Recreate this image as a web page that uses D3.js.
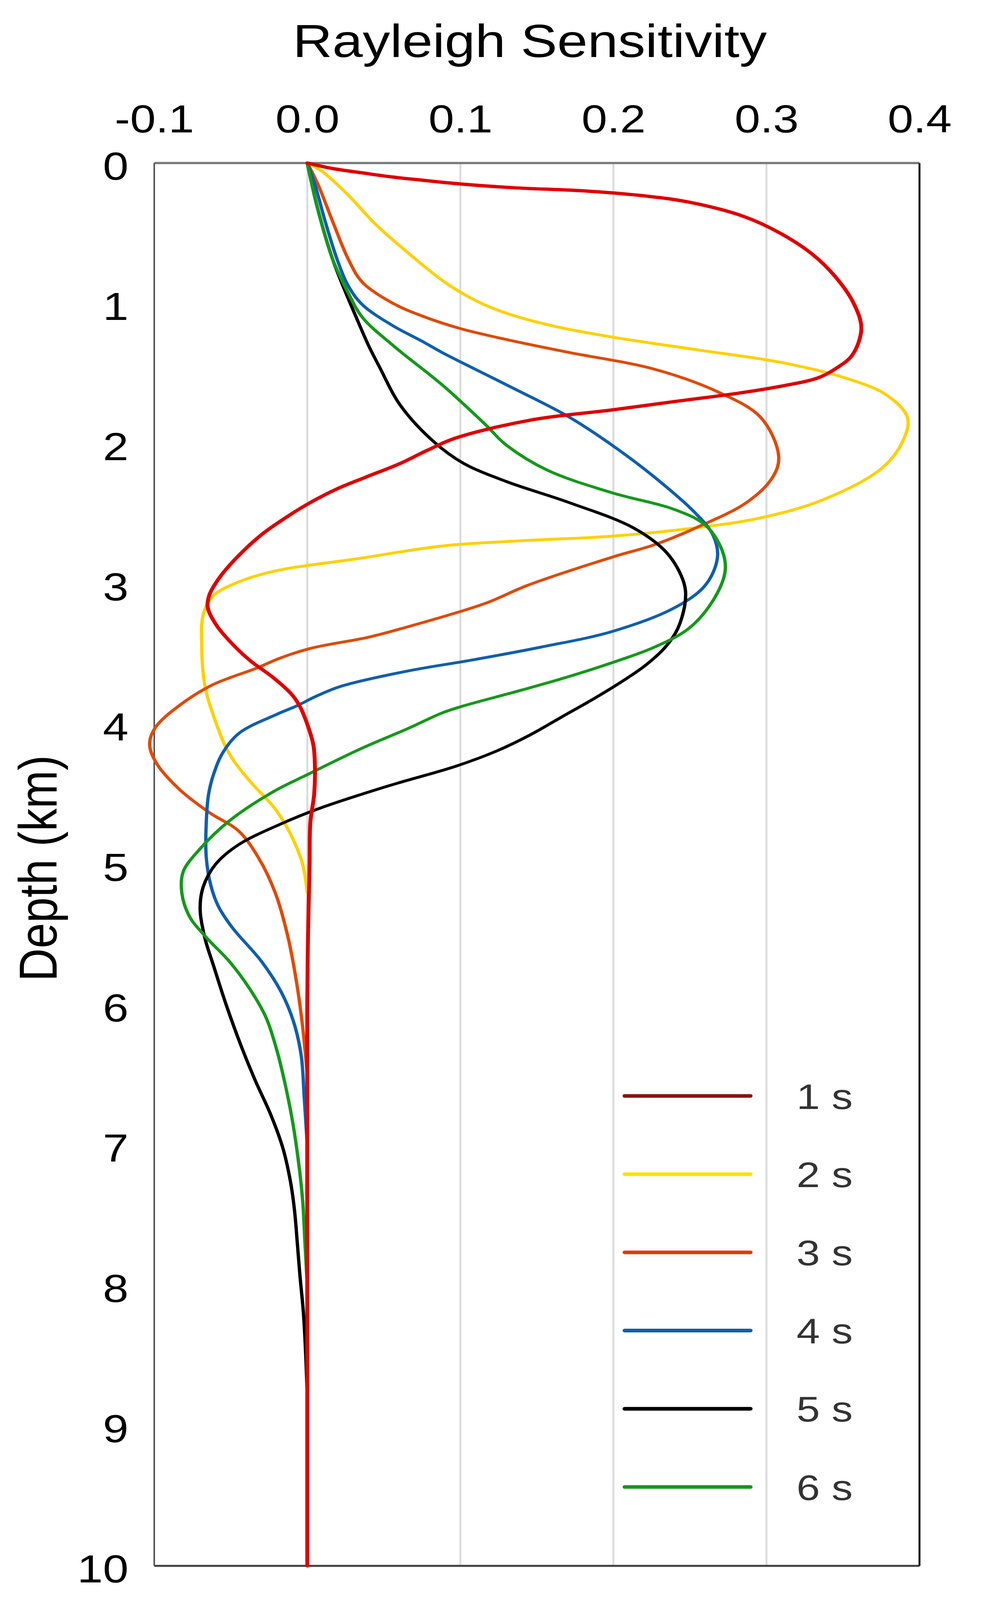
<!DOCTYPE html>
<html>
<head>
<meta charset="utf-8">
<script src="https://cdn.jsdelivr.net/npm/d3@7"></script>
<style>
  html, body { margin: 0; padding: 0; background: #fff; overflow: hidden; }
  svg { display: block; }
  text { font-family: "Liberation Sans", Arial, Helvetica, sans-serif; }
</style>
</head>
<body>
<script>
// periods shown in the legend
var periods = ['1 s', '2 s', '3 s', '4 s', '5 s', '6 s'];

// tick values
var xTicks = [-0.1, 0.0, 0.1, 0.2, 0.3, 0.4];
var yTicks = [0, 1, 2, 3, 4, 5, 6, 7, 8, 9, 10];

// [depth (km), sensitivity]
var sens1s = [[0,0],[0.04,0.017],[0.07,0.036],[0.10,0.056],[0.122,0.075],[0.149,0.10],[0.176,0.135],[0.2,0.183],
  [0.24,0.225],[0.28,0.25],[0.38,0.285],[0.5,0.309],[0.65,0.33],[0.81,0.345],[1.0,0.357],[1.18,0.362],
  [1.37,0.356],[1.46,0.346],[1.53,0.334],[1.59,0.31],[1.64,0.282],[1.7,0.24],[1.76,0.199],[1.83,0.147],
  [1.96,0.097],[2.05,0.078],[2.14,0.061],[2.24,0.038],[2.32,0.02],[2.42,0.002],[2.52,-0.013],[2.65,-0.03],
  [2.8,-0.045],[2.95,-0.057],[3.08,-0.064],[3.17,-0.065],[3.3,-0.059],[3.45,-0.047],[3.55,-0.037],
  [3.67,-0.022],[3.79,-0.010],[3.87,-0.005],[4.0,0],[4.15,0.004],[4.3,0.005],[4.5,0.0045],[4.7,0.002],
  [5.0,0.0015],[5.5,0.0005],[6,0],[8,0],[10,0]];

var sens2s = [[0,0],[0.06,0.0098],[0.22,0.026],[0.44,0.045],[0.66,0.068],[0.85,0.09],[0.98,0.11],[1.07,0.13],
  [1.16,0.16],[1.24,0.199],[1.33,0.254],[1.42,0.309],[1.53,0.351],[1.65,0.378],[1.81,0.392],[1.96,0.39],
  [2.17,0.376],[2.4,0.337],[2.53,0.296],[2.6,0.254],[2.66,0.199],[2.69,0.144],[2.73,0.088],[2.82,0.033],
  [2.91,-0.022],[3.0,-0.048],[3.09,-0.062],[3.22,-0.068],[3.41,-0.069],[3.72,-0.067],[3.98,-0.06],
  [4.21,-0.051],[4.4,-0.038],[4.59,-0.022],[4.74,-0.013],[4.95,-0.0044],[5.05,-0.002],[5.2,0]];

var sens3s = [[0,0],[0.15,0.0069],[0.42,0.0167],[0.69,0.027],[0.85,0.036],[1.0,0.056],[1.09,0.075],[1.18,0.1],
  [1.26,0.131],[1.35,0.171],[1.47,0.227],[1.63,0.268],[1.81,0.296],[2.09,0.308],[2.24,0.304],[2.42,0.287],
  [2.6,0.254],[2.72,0.227],[2.81,0.199],[3.01,0.144],[3.14,0.116],[3.32,0.061],[3.38,0.04],[3.46,0.002],
  [3.53,-0.018],[3.6,-0.033],[3.72,-0.062],[3.87,-0.084],[4.02,-0.099],[4.14,-0.103],[4.27,-0.099],
  [4.46,-0.084],[4.63,-0.064],[4.76,-0.045],[4.95,-0.032],[5.2,-0.021],[5.5,-0.013],[5.84,-0.007],
  [6.16,-0.003],[6.5,0]];

var sens4s = [[0,0],[0.15,0.0049],[0.42,0.0118],[0.69,0.0196],[0.87,0.0265],[1.01,0.036],[1.16,0.056],
  [1.27,0.075],[1.35,0.088],[1.58,0.13],[1.81,0.171],[2.01,0.199],[2.24,0.227],[2.5,0.254],[2.65,0.265],
  [2.81,0.268],[3.01,0.26],[3.17,0.24],[3.34,0.199],[3.45,0.153],[3.54,0.109],[3.62,0.066],[3.73,0.022],
  [3.8,0.006],[3.87,-0.007],[3.93,-0.02],[4.06,-0.044],[4.2,-0.055],[4.35,-0.061],[4.5,-0.0645],
  [4.7,-0.066],[4.95,-0.066],[5.15,-0.063],[5.3,-0.058],[5.45,-0.049],[5.69,-0.030],[5.91,-0.017],
  [6.12,-0.009],[6.36,-0.004],[6.66,-0.002],[7.0,0]];

var sens5s = [[0,0],[0.33,0.0069],[0.69,0.0167],[0.96,0.0265],[1.10,0.032],[1.30,0.040],[1.45,0.047],
  [1.73,0.061],[1.99,0.083],[2.14,0.102],[2.27,0.13],[2.42,0.171],[2.6,0.213],[2.78,0.235],[2.99,0.246],
  [3.12,0.247],[3.32,0.242],[3.45,0.234],[3.58,0.221],[3.7,0.205],[3.82,0.187],[3.95,0.166],[4.08,0.145],
  [4.19,0.124],[4.30,0.097],[4.44,0.053],[4.6,0.008],[4.71,-0.017],[4.86,-0.045],[5.0,-0.06],[5.16,-0.068],
  [5.32,-0.070],[5.52,-0.067],[5.73,-0.061],[6.0,-0.053],[6.3,-0.043],[6.54,-0.034],[6.78,-0.024],
  [7.02,-0.016],[7.26,-0.011],[7.46,-0.0084],[7.7,-0.0065],[7.93,-0.0048],[8.2,-0.0025],[8.5,-0.001],[8.8,0]];

var sens6s = [[0,0],[0.33,0.0069],[0.69,0.0167],[0.92,0.0265],[1.10,0.036],[1.30,0.056],[1.58,0.088],
  [1.86,0.116],[2.01,0.13],[2.19,0.157],[2.35,0.199],[2.47,0.24],[2.58,0.26],[2.76,0.271],[2.91,0.273],
  [3.12,0.265],[3.32,0.249],[3.45,0.227],[3.54,0.205],[3.67,0.168],[3.76,0.139],[3.87,0.102],[3.92,0.088],
  [4.03,0.066],[4.17,0.036],[4.36,0],[4.48,-0.022],[4.69,-0.051],[4.9,-0.071],[5.05,-0.081],[5.2,-0.082],
  [5.37,-0.077],[5.52,-0.066],[5.69,-0.051],[5.88,-0.038],[6.09,-0.027],[6.32,-0.02],[6.54,-0.015],
  [6.84,-0.0095],[7.14,-0.0055],[7.4,-0.003],[7.7,-0.0015],[8.0,0]];

var lineColors = ['#e00000', '#ffd000', '#e04a06', '#0f5fae', '#000000', '#14991a'];
var legendColors = ['#8a1414', '#ffe000', '#e03a00', '#0f5fa8', '#000000', '#14991a'];

// drawing space is the reference's 2533 x 4828; the svg is fitted to the window
var W = 2533, H = 4828;
var svg = d3.select('body').append('svg')
    .attr('width', window.innerWidth || W)
    .attr('height', window.innerHeight || H)
    .attr('viewBox', '0 0 ' + W + ' ' + H)
    .attr('preserveAspectRatio', 'none');

var scaleX = d3.scaleLinear().domain([-0.1, 0.4]).range([395, 2355]);
var scaleY = d3.scaleLinear().domain([0, 10]).range([492, 4725]);   // depth grows downward

// light vertical grid inside the frame
svg.selectAll('line.grid')
    .data(xTicks.slice(1, -1))
    .enter()
    .append('line')
    .attr('class', 'grid')
    .attr('x1', function(d) { return scaleX(d); })
    .attr('x2', function(d) { return scaleX(d); })
    .attr('y1', scaleY(0))
    .attr('y2', scaleY(10))
    .attr('stroke', '#dadada')
    .attr('stroke-width', 5);

// axes: labels only, frame drawn separately
var xAxis = svg.append('g')
    .attr('transform', 'translate(0,' + scaleY(0) + ')')
    .call(d3.axisTop(scaleX).tickValues(xTicks).tickSize(0).tickPadding(92)
        .tickFormat(function(d) { return d.toFixed(1); }));

var yAxis = svg.append('g')
    .attr('transform', 'translate(' + scaleX(-0.1) + ',0)')
    .call(d3.axisLeft(scaleY).tickValues(yTicks).tickSize(0).tickPadding(66));

[xAxis, yAxis].forEach(function(g) {
    g.select('.domain').remove();
    g.selectAll('text')
        .attr('font-size', 118)
        .attr('font-family', '"Liberation Sans", Arial, sans-serif')
        .attr('fill', '#000');
});
yAxis.selectAll('text').attr('dy', '0.42em');

// frame
svg.append('line')
    .attr('x1', scaleX(-0.1)).attr('x2', scaleX(0.4))
    .attr('y1', scaleY(0)).attr('y2', scaleY(0))
    .attr('stroke', '#7a7a7a').attr('stroke-width', 7);
svg.append('line')
    .attr('x1', scaleX(-0.1)).attr('x2', scaleX(0.4))
    .attr('y1', scaleY(10)).attr('y2', scaleY(10))
    .attr('stroke', '#444').attr('stroke-width', 6);
svg.append('line')
    .attr('x1', scaleX(-0.1)).attr('x2', scaleX(-0.1))
    .attr('y1', scaleY(0)).attr('y2', scaleY(10))
    .attr('stroke', '#555').attr('stroke-width', 4);
svg.append('line')
    .attr('x1', scaleX(0.4)).attr('x2', scaleX(0.4))
    .attr('y1', scaleY(0)).attr('y2', scaleY(10))
    .attr('stroke', '#111').attr('stroke-width', 5);

// curves
var line = d3.line()
    .x(function(d) { return scaleX(d[1]); })
    .y(function(d) { return scaleY(d[0]); })
    .curve(d3.curveCatmullRom.alpha(0.5));

var series = [sens1s, sens2s, sens3s, sens4s, sens5s, sens6s];
var drawOrder = [1, 2, 3, 4, 5, 0];   // 1 s sits on top

svg.append('g')
    .selectAll('path')
    .data(drawOrder)
    .enter()
    .append('path')
    .attr('d', function(i) { return line(series[i]); })
    .attr('fill', 'none')
    .attr('stroke', function(i) { return lineColors[i]; })
    .attr('stroke-width', function(i) { return i === 0 ? 10 : 8.5; })
    .attr('stroke-linejoin', 'round')
    .attr('stroke-linecap', 'round');

// legend
var legend = svg.append('g')
    .selectAll('g')
    .data(periods)
    .enter()
    .append('g')
    .attr('transform', function(d, i) { return 'translate(0,' + (3307 + i * 236) + ')'; });

legend.append('line')
    .attr('x1', 1600).attr('x2', 1922)
    .attr('stroke', function(d, i) { return legendColors[i]; })
    .attr('stroke-width', 11)
    .attr('stroke-linecap', 'round');

legend.append('text')
    .attr('x', 2040)
    .attr('dy', '0.36em')
    .attr('font-size', 108)
    .attr('fill', '#333')
    .text(function(d) { return d; });

// titles
svg.append('text')
    .attr('x', 1357)
    .attr('y', 172)
    .attr('text-anchor', 'middle')
    .attr('font-size', 140)
    .text('Rayleigh Sensitivity');

svg.append('text')
    .attr('transform', 'translate(145,2620) rotate(-90)')
    .attr('text-anchor', 'middle')
    .attr('font-size', 138)
    .text('Depth (km)');
</script>
</body>
</html>
